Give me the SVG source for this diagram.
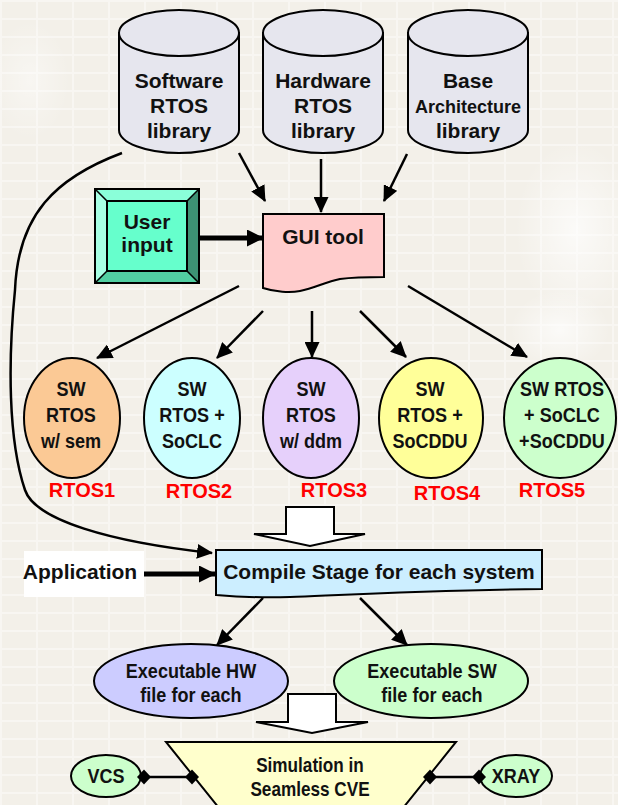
<svg xmlns="http://www.w3.org/2000/svg" width="618" height="805" viewBox="0 0 618 805">
  <defs>
    <style>
      text { font-family: "Liberation Sans", Arial, sans-serif; font-weight: bold; fill: #111; text-anchor: middle; }
      .t21 { font-size: 21px; }
      .t18 { font-size: 18px; }
      .t20 { font-size: 20px; }
      .t195 { font-size: 19.5px; }
      .red { font-size: 20px; fill: #ff0000; }
      .shape { stroke: #000; stroke-width: 2; }
      .cyl { fill: #e6e6ee; stroke: #000; stroke-width: 2; }
      .link { fill: none; stroke: #000; stroke-width: 2.5; }
      .thick { fill: none; stroke: #000; stroke-width: 5; }
      .block { fill: #fff; stroke: #000; stroke-width: 2; }
    </style>
    <pattern id="grid" width="36" height="36" patternUnits="userSpaceOnUse">
      <path d="M0,1 H36 M1,0 V36 M0,19 H36" fill="none" stroke="#ffffff" stroke-width="2" opacity="0.4"/>
    </pattern>
    <radialGradient id="glow">
      <stop offset="0" stop-color="#ffffff" stop-opacity="0.7"/>
      <stop offset="1" stop-color="#ffffff" stop-opacity="0"/>
    </radialGradient>
    <marker id="head" markerUnits="userSpaceOnUse" markerWidth="16" markerHeight="15" refX="15" refY="7.5" orient="auto">
      <path d="M0,0 L16,7.5 L0,15 Z" fill="#000"/>
    </marker>
    <marker id="bighead" markerUnits="userSpaceOnUse" markerWidth="17" markerHeight="17" refX="16" refY="8.5" orient="auto">
      <path d="M0,0 L17,8.5 L0,17 Z" fill="#000"/>
    </marker>
    <g id="cylShape">
      <path d="M0,33 V130 A60,23 0 0 0 120,130 V33 Z" class="cyl"/>
      <ellipse cx="60" cy="33" rx="60" ry="23" class="cyl"/>
    </g>
    <polygon id="diamond" points="0,-7.5 7,0 0,7.5 -7,0" fill="#000"/>
  </defs>

  <!-- backdrop -->
  <rect width="618" height="805" fill="#f3f0e9"/>
  <rect width="618" height="805" fill="url(#grid)"/>
  <ellipse cx="575" cy="230" rx="60" ry="90" fill="url(#glow)"/>
  <ellipse cx="560" cy="330" rx="50" ry="40" fill="url(#glow)"/>
  <ellipse cx="30" cy="80" rx="40" ry="60" fill="url(#glow)" opacity="0.6"/>

  <!-- connectors -->
  <g id="connectors">
    <line class="link" x1="239" y1="153" x2="265" y2="201" marker-end="url(#head)"/>
    <line class="link" x1="321" y1="159" x2="321" y2="212" marker-end="url(#head)"/>
    <line class="link" x1="407" y1="154" x2="384" y2="201" marker-end="url(#head)"/>
    <line class="thick" x1="199" y1="238" x2="263" y2="238" marker-end="url(#bighead)"/>
    <line class="link" x1="239" y1="286" x2="97" y2="358" marker-end="url(#head)"/>
    <line class="link" x1="263" y1="311" x2="217" y2="358" marker-end="url(#head)"/>
    <line class="link" x1="312" y1="311" x2="312" y2="357" marker-end="url(#head)"/>
    <line class="link" x1="360" y1="311" x2="406" y2="357" marker-end="url(#head)"/>
    <line class="link" x1="408" y1="286" x2="527" y2="357" marker-end="url(#head)"/>
    <path class="link" d="M122,153 C55,178 18,215 15,290 C8,360 8,440 25,490 C35,520 110,542 212,553" marker-end="url(#head)"/>
    <line class="thick" x1="144" y1="574" x2="215" y2="574" marker-end="url(#bighead)"/>
    <line class="link" x1="263" y1="598" x2="217" y2="645" marker-end="url(#head)"/>
    <line class="link" x1="360" y1="598" x2="407" y2="645" marker-end="url(#head)"/>
    <line class="link" x1="144" y1="777" x2="193" y2="777"/>
    <line class="link" x1="429" y1="777" x2="479" y2="777"/>
  </g>

  <!-- libraries -->
  <g id="sw-lib">
    <use href="#cylShape" x="119"/>
    <text class="t21" x="179" y="88">Software</text>
    <text class="t21" x="179" y="113">RTOS</text>
    <text class="t21" x="179" y="138">library</text>
  </g>
  <g id="hw-lib">
    <use href="#cylShape" x="263"/>
    <text class="t21" x="323" y="88">Hardware</text>
    <text class="t21" x="323" y="113">RTOS</text>
    <text class="t21" x="323" y="138">library</text>
  </g>
  <g id="base-lib">
    <use href="#cylShape" x="408"/>
    <text class="t21" x="468" y="88">Base</text>
    <text class="t18" x="468" y="113">Architecture</text>
    <text class="t21" x="468" y="138">library</text>
  </g>

  <!-- user input bevel button -->
  <g id="user-input">
    <polygon points="95,189 199,189 187,201 107,201" fill="#8affd9"/>
    <polygon points="95,189 107,201 107,271 95,283" fill="#a8ffe4"/>
    <polygon points="199,189 199,283 187,271 187,201" fill="#3d9274"/>
    <polygon points="95,283 199,283 187,271 107,271" fill="#52cfa2"/>
    <rect x="107" y="201" width="80" height="70" fill="#66ffcc" class="shape"/>
    <rect x="95" y="189" width="104" height="94" fill="none" class="shape"/>
    <path d="M95,189 L107,201 M199,189 L187,201 M95,283 L107,271 M199,283 L187,271" stroke="#000" stroke-width="1.5"/>
    <text class="t21" x="147" y="229">User</text>
    <text class="t21" x="147" y="252">input</text>
  </g>

  <!-- GUI tool document -->
  <g id="gui-tool">
    <path class="shape" fill="#ffcccc" d="M263,214 H384 V277 C370,277 355,277 340,279 C325,282 315,288 300,291 C290,293 275,292 263,288 Z"/>
    <text class="t21" x="323" y="244">GUI tool</text>
  </g>

  <!-- RTOS variants (labels narrowed about their centre line) -->
  <g id="rtos1">
    <ellipse class="shape" cx="72" cy="418" rx="48" ry="60" fill="#fbc995"/>
    <g transform="matrix(0.86 0 0 1 9.94 0)">
      <text class="t21" x="71" y="396">SW</text>
      <text class="t21" x="71" y="422">RTOS</text>
      <text class="t21" x="71" y="448">w/ sem</text>
    </g>
    <text class="red" x="82" y="497">RTOS1</text>
  </g>
  <g id="rtos2">
    <ellipse class="shape" cx="192" cy="418" rx="48" ry="60" fill="#ccffff"/>
    <g transform="matrix(0.86 0 0 1 26.88 0)">
      <text class="t21" x="192" y="396">SW</text>
      <text class="t21" x="192" y="422">RTOS +</text>
      <text class="t21" x="192" y="448">SoCLC</text>
    </g>
    <text class="red" x="199" y="498">RTOS2</text>
  </g>
  <g id="rtos3">
    <ellipse class="shape" cx="311" cy="418" rx="48" ry="60" fill="#e6d0fb"/>
    <g transform="matrix(0.86 0 0 1 43.54 0)">
      <text class="t21" x="311" y="396">SW</text>
      <text class="t21" x="311" y="422">RTOS</text>
      <text class="t21" x="311" y="448">w/ ddm</text>
    </g>
    <text class="red" x="334" y="497">RTOS3</text>
  </g>
  <g id="rtos4">
    <ellipse class="shape" cx="431" cy="418" rx="52" ry="60" fill="#ffff99"/>
    <g transform="matrix(0.86 0 0 1 60.2 0)">
      <text class="t21" x="430" y="396">SW</text>
      <text class="t21" x="430" y="422">RTOS +</text>
      <text class="t21" x="430" y="448">SoCDDU</text>
    </g>
    <text class="red" x="447" y="500">RTOS4</text>
  </g>
  <g id="rtos5">
    <ellipse class="shape" cx="560" cy="418" rx="56" ry="60" fill="#ccffcc"/>
    <g transform="matrix(0.86 0 0 1 78.68 0)">
      <text class="t21" x="562" y="396">SW RTOS</text>
      <text class="t21" x="562" y="422">+ SoCLC</text>
      <text class="t21" x="562" y="448">+SoCDDU</text>
    </g>
    <text class="red" x="552" y="497">RTOS5</text>
  </g>

  <!-- block arrow into compile stage -->
  <g id="flow-arrow-1">
    <polygon class="block" points="286,507 334,507 334,534 365,534 310,546 254,534 286,534"/>
  </g>

  <!-- application input -->
  <g id="application">
    <rect x="24" y="551" width="120" height="46" fill="#ffffff"/>
    <text class="t21" x="80" y="579">Application</text>
  </g>

  <!-- compile stage document -->
  <g id="compile">
    <path class="shape" fill="#cceeff" d="M216,550 H542 V589 C430,590 360,594 290,597 C260,598 240,597 216,595 Z"/>
    <text class="t21" x="379" y="579">Compile Stage for each system</text>
  </g>

  <!-- executables -->
  <g id="exe-hw">
    <ellipse class="shape" cx="191" cy="681" rx="97" ry="37" fill="#ccccff"/>
    <g transform="matrix(0.86 0 0 1 26.74 0)">
      <text class="t21" x="191" y="678">Executable HW</text>
      <text class="t21" x="191" y="702">file for each</text>
    </g>
  </g>
  <g id="exe-sw">
    <ellipse class="shape" cx="431" cy="681" rx="97" ry="37" fill="#ccffcc"/>
    <g transform="matrix(0.86 0 0 1 60.48 0)">
      <text class="t21" x="432" y="678">Executable SW</text>
      <text class="t21" x="432" y="702">file for each</text>
    </g>
  </g>

  <!-- block arrow into simulation -->
  <g id="flow-arrow-2">
    <polygon class="block" points="288,694 336,694 336,722 368,722 312,733 256,722 288,722"/>
  </g>

  <!-- simulation stage -->
  <g id="simulation">
    <polygon class="shape" fill="#ffffcc" points="166,742 456,742 403,808 219,808"/>
    <g transform="matrix(0.88 0 0 1 37.2 0)">
      <text class="t195" x="310" y="772">Simulation in</text>
      <text class="t195" x="310" y="796">Seamless CVE</text>
    </g>
  </g>

  <g id="vcs">
    <ellipse class="shape" cx="106" cy="776" rx="35" ry="21" fill="#ccffcc"/>
    <g transform="matrix(0.9 0 0 1 10.6 0)">
      <text class="t20" x="106" y="783">VCS</text>
    </g>
  </g>
  <g id="xray">
    <ellipse class="shape" cx="516" cy="776" rx="36" ry="21" fill="#ccffcc"/>
    <g transform="matrix(0.9 0 0 1 51.6 0)">
      <text class="t20" x="516" y="783">XRAY</text>
    </g>
  </g>

  <!-- tool couplings -->
  <g id="couplings">
    <use href="#diamond" x="144" y="777"/>
    <use href="#diamond" x="192" y="777"/>
    <use href="#diamond" x="430" y="777"/>
    <use href="#diamond" x="479" y="777"/>
  </g>
</svg>
